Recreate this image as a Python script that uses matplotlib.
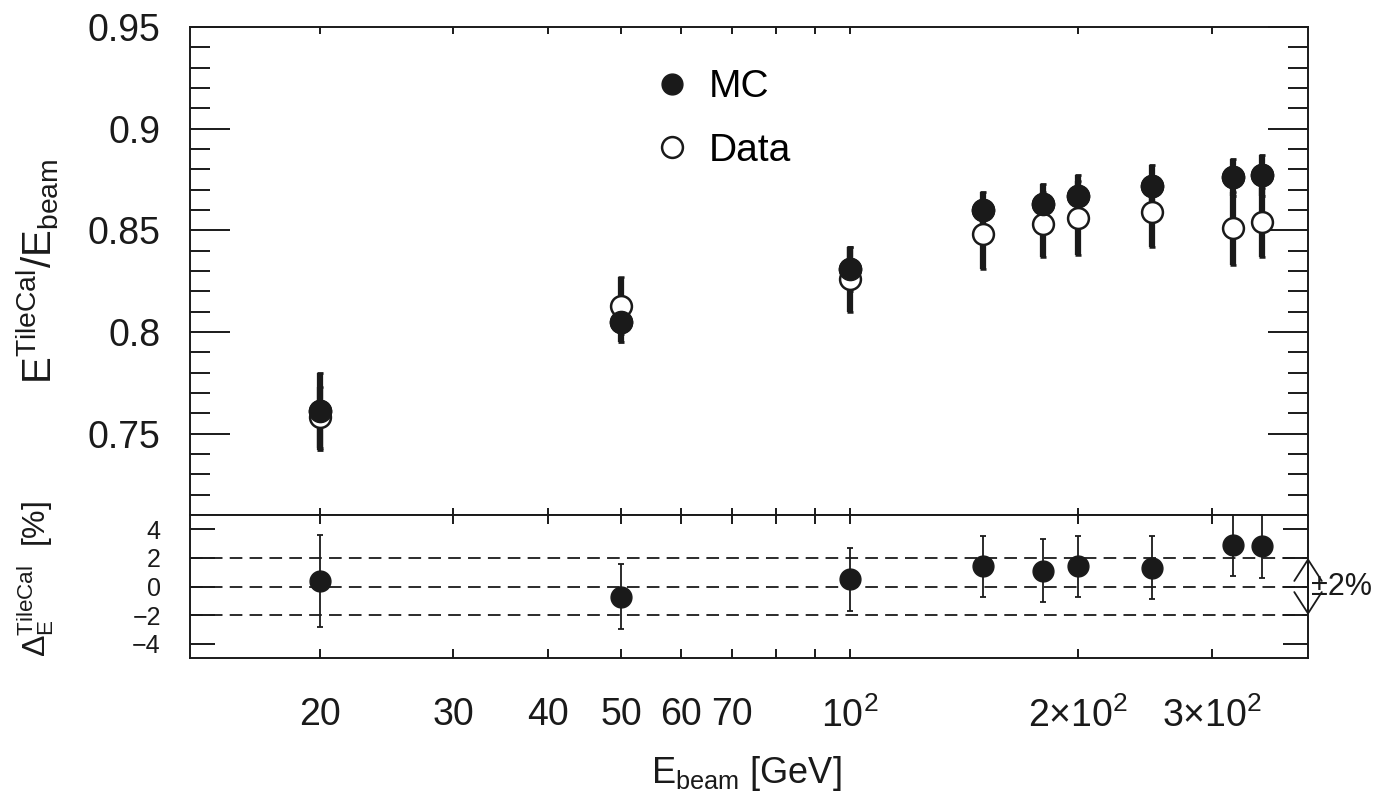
import matplotlib
matplotlib.use("Agg")
import matplotlib.pyplot as plt
from matplotlib.lines import Line2D
from matplotlib.ticker import FixedLocator, FixedFormatter, MultipleLocator, NullLocator, NullFormatter, FuncFormatter

plt.rcParams['font.family'] = ['Liberation Sans', 'DejaVu Sans']
plt.rcParams['mathtext.fontset'] = 'custom'
plt.rcParams['mathtext.rm'] = 'Liberation Sans'

# beam energies [GeV]
energies = [20, 50, 100, 150, 180, 200, 250, 320, 350]

# E_TileCal / E_beam
mc = [0.761, 0.805, 0.831, 0.860, 0.863, 0.867, 0.872, 0.876, 0.877]
mc_err = [0.019, 0.010, 0.011, 0.009, 0.010, 0.010, 0.010, 0.009, 0.010]
data = [0.758, 0.813, 0.826, 0.848, 0.853, 0.856, 0.859, 0.851, 0.854]
data_err = [0.015, 0.014, 0.016, 0.017, 0.016, 0.018, 0.017, 0.018, 0.017]

# relative difference [%]
delta = [0.4, -0.7, 0.5, 1.4, 1.1, 1.4, 1.3, 2.9, 2.8]
delta_err = [3.2, 2.25, 2.2, 2.15, 2.2, 2.15, 2.2, 2.15, 2.2]

xtick_vals = [20, 30, 40, 50, 60, 70, 100, 200, 300]
xtick_labels = ['20', '30', '40', '50', '60', '70',
                r'$\mathregular{10^{2}}$', r'$\mathregular{2{\times}10^{2}}$', r'$\mathregular{3{\times}10^{2}}$']
xminor_vals = [80, 90]
band_lines = [-2, 0, 2]

ink = '#1a1a1a'

fig = plt.figure(figsize=(13.75, 7.93), dpi=100)
ax1 = fig.add_axes([0.1382, 0.3506, 0.8131, 0.6154])
ax2 = fig.add_axes([0.1382, 0.1702, 0.8131, 0.1804], sharex=ax1)

ax1.set_xscale('log')
ax1.set_xlim(13.5, 402)

# top panel
ax1.errorbar(energies, mc, yerr=mc_err, fmt='o', ms=16, color=ink, mfc=ink, mec=ink,
             elinewidth=4.5, capsize=2.5, capthick=2, zorder=3)
ax1.errorbar(energies, data, yerr=data_err, fmt='o', ms=15, color=ink, mfc='white', mec=ink,
             mew=1.8, elinewidth=4.5, capsize=2.5, capthick=2, zorder=4)
ax1.plot(energies, mc, 'o', ms=16, color=ink, zorder=5)

ax1.set_ylim(0.71, 0.95)
ax1.yaxis.set_major_locator(MultipleLocator(0.05))
ax1.yaxis.set_minor_locator(MultipleLocator(0.01))
ax1.yaxis.set_major_formatter(FuncFormatter(lambda v, p: '%g' % round(v, 3)))
ax1.tick_params(axis='y', which='major', direction='in', length=28.8, width=1.4, right=True,
                labelsize=27, pad=21, colors=ink)
ax1.tick_params(axis='y', which='minor', direction='in', length=14.4, width=1.4, right=True, colors=ink)
ax1.tick_params(axis='x', which='both', direction='in', length=5, width=1.4, top=True, bottom=True,
                labelbottom=False, colors=ink)
ax1.set_ylabel(r'$\mathregular{E^{TileCal}/E_{beam}}$', fontsize=29, color=ink)
ax1.yaxis.set_label_coords(-0.116, 0.5)

handles = [Line2D([], [], ls='none', marker='o', ms=15, color=ink),
           Line2D([], [], ls='none', marker='o', ms=15, mfc='white', mec=ink, mew=1.8)]
ax1.legend(handles, ['MC', 'Data'], loc='upper left', bbox_to_anchor=(0.4, 0.945), frameon=False,
           fontsize=28, handlelength=1.0, handletextpad=0.45, labelspacing=0.7, borderaxespad=0)

# bottom panel
for yv in band_lines:
    ax2.axhline(yv, color=ink, lw=1.3, ls=(0, (7, 4)), zorder=1)
ax2.errorbar(energies, delta, yerr=delta_err, fmt='o', ms=15, color=ink,
             elinewidth=1.3, capsize=2.5, capthick=1.3, zorder=3)
ax2.set_ylim(-5, 5)
ax2.set_yticks([-4, -2, 0, 2, 4])
ax2.yaxis.set_minor_locator(NullLocator())
ax2.tick_params(axis='y', which='major', direction='in', length=18, width=1.4, right=True,
                labelsize=18, pad=21, colors=ink)

ax2.xaxis.set_major_locator(FixedLocator(xtick_vals))
ax2.xaxis.set_major_formatter(FixedFormatter(xtick_labels))
ax2.xaxis.set_minor_locator(FixedLocator(xminor_vals))
ax2.xaxis.set_minor_formatter(NullFormatter())
ax2.tick_params(axis='x', which='both', direction='in', length=6.5, width=1.4, top=True, bottom=True,
                labelsize=27, pad=28, colors=ink)
ax2.set_ylabel(r'$\mathregular{\Delta_E^{TileCal}}$  [%]', fontsize=23, color=ink)
ax2.yaxis.set_label_coords(-0.12, 0.55)

ax2.annotate('', xy=(1.0, -2), xytext=(1.0, 2), xycoords=('axes fraction', 'data'),
             arrowprops=dict(arrowstyle='<->,head_length=0.7,head_width=0.45', color=ink, lw=1.3,
                             shrinkA=0, shrinkB=0, mutation_scale=22), annotation_clip=False)
ax2.text(1.003, 0, u'\u00b12%', transform=ax2.get_yaxis_transform(), fontsize=22,
         ha='left', va='center', color=ink)

for ax in (ax1, ax2):
    for s in ax.spines.values():
        s.set_linewidth(1.4)
        s.set_color(ink)

fig.text(0.5427, 1 - 783 / 793, r'$\mathregular{E_{beam}}$ [GeV]', fontsize=26, ha='center',
         va='baseline', color=ink)

fig.savefig('out.png', dpi=100)
